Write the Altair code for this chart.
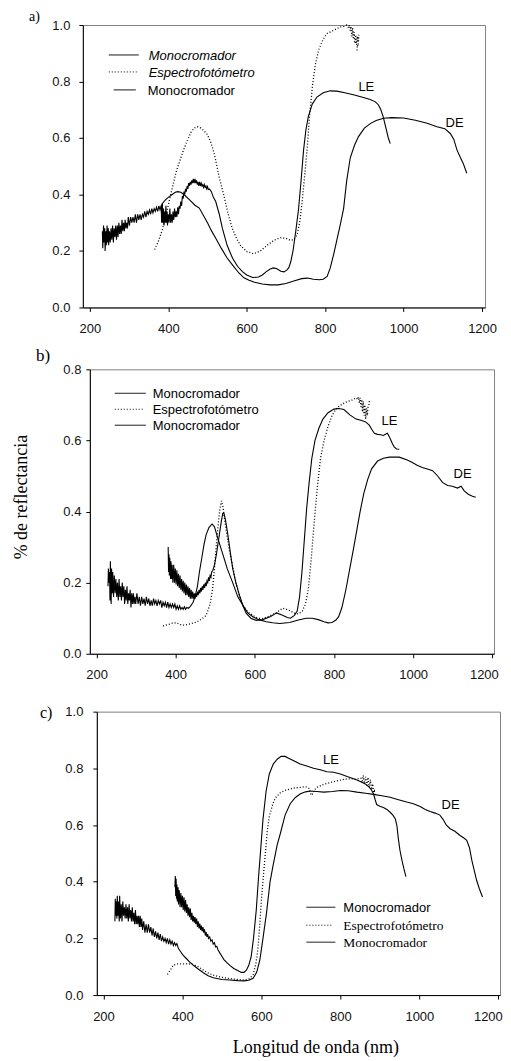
import altair as alt
import pandas as pd

# ---------------- data (wavelength nm, reflectance) ----------------
# Panel a
a_de = [(232,0.27),(233,0.21),(235,0.29),(236,0.23),(238,0.28),(239,0.20),(241,0.27),(242,0.22),(244,0.29),(245,0.23),
        (247,0.28),(248,0.22),(250,0.27),(252,0.23),(254,0.28),(256,0.24),(258,0.29),(260,0.23),(262,0.28),(264,0.25),
        (266,0.29),(268,0.24),(270,0.29),(272,0.25),(274,0.30),(276,0.26),(278,0.29),(280,0.26),(282,0.31),(284,0.27),
        (286,0.30),(288,0.27),(290,0.31),(292,0.28),(294,0.30),(296,0.28),(298,0.32),(301,0.29),(304,0.32),(307,0.30),
        (310,0.32),(313,0.30),(316,0.33),(319,0.30),(322,0.33),(325,0.31),(328,0.33),(331,0.31),(334,0.33),(337,0.32),
        (340,0.34),(343,0.32),(346,0.34),(349,0.33),(352,0.345),(355,0.33),(358,0.35),(361,0.335),(364,0.35),(367,0.34),
        (370,0.355),(373,0.34),(376,0.36),(379,0.345),(382,0.36),(386,0.37),(392,0.38),(400,0.39),(410,0.40),(418,0.408),
        (424,0.41),(432,0.408),(440,0.40),(455,0.38),(468,0.362),(479,0.352),(490,0.325),(500,0.30),(510,0.272),(521,0.245),
        (535,0.21),(550,0.175),(564,0.15),(580,0.122),(593,0.105),(606,0.096),(620,0.089),(640,0.083),(660,0.08),(680,0.08),
        (700,0.085),(720,0.094),(740,0.102),(755,0.104),(770,0.10),(785,0.098),(795,0.10),(805,0.11),(813,0.14),(822,0.19),
        (830,0.24),(838,0.29),(847,0.35),(855,0.45),(864,0.53),(875,0.575),(885,0.605),(900,0.635),(915,0.651),(930,0.662),
        (949,0.67),(970,0.672),(1000,0.671),(1030,0.663),(1060,0.652),(1085,0.64),(1105,0.633),(1119,0.616),(1128,0.595),
        (1136,0.558),(1145,0.53),(1152,0.51),(1161,0.475)]
a_le = [(382,0.36),(383,0.30),(385,0.37),(386,0.30),(388,0.35),(389,0.29),(391,0.34),(392,0.30),(394,0.36),(395,0.30),
        (397,0.34),(398,0.29),(400,0.33),(402,0.30),(404,0.35),(406,0.30),(408,0.33),(410,0.30),(412,0.34),(414,0.31),
        (416,0.35),(418,0.32),(420,0.34),(422,0.32),(424,0.355),(426,0.33),(428,0.36),(430,0.35),(432,0.375),(434,0.36),
        (436,0.395),(438,0.385),(440,0.41),(442,0.40),(444,0.42),(446,0.41),(448,0.43),(450,0.42),(452,0.44),(454,0.43),
        (456,0.445),(458,0.435),(460,0.45),(462,0.44),(464,0.455),(466,0.44),(468,0.455),(470,0.44),(472,0.45),(474,0.435),
        (476,0.445),(478,0.43),(480,0.445),(482,0.43),(484,0.44),(486,0.43),(488,0.435),(490,0.425),(492,0.435),(494,0.425),
        (496,0.43),(498,0.42),(500,0.428),(502,0.418),(505,0.42),(510,0.41),(515,0.39),(521,0.375),(530,0.33),(538,0.28),
        (550,0.22),(564,0.174),(577,0.145),(589,0.127),(600,0.115),(615,0.106),(630,0.108),(640,0.115),(650,0.127),(660,0.136),
        (668,0.14),(677,0.137),(687,0.128),(695,0.126),(702,0.132),(707,0.14),(712,0.16),(718,0.20),(725,0.27),(732,0.346),
        (738,0.44),(745,0.558),(751,0.63),(757,0.675),(767,0.72),(779,0.745),(795,0.76),(813,0.767),(830,0.766),(850,0.76),
        (872,0.753),(893,0.745),(915,0.736),(928,0.728),(936,0.717),(942,0.70),(948,0.675),(955,0.635),(961,0.60),(966,0.58)]
a_esp = [(365,0.205),(375,0.235),(386,0.28),(397,0.345),(408,0.41),(420,0.48),(437,0.55),(448,0.59),(458,0.62),(466,0.635),
         (474,0.64),(482,0.636),(490,0.627),(499,0.613),(507,0.59),(514,0.56),(520,0.527),(530,0.46),(542,0.395),(552,0.335),
         (563,0.28),(574,0.245),(584,0.22),(600,0.198),(618,0.19),(635,0.20),(652,0.22),(670,0.238),(686,0.247),(700,0.245),
         (711,0.238),(720,0.24),(728,0.256),(735,0.30),(741,0.37),(748,0.47),(754,0.56),(760,0.675),(768,0.79),(775,0.86),
         (783,0.91),(795,0.95),(805,0.97),(820,0.98),(838,0.993),(848,0.995),(855,1.0),(860,0.99),(862,1.0),(864,0.98),
         (866,0.995),(868,0.96),(870,0.99),(872,0.95),(874,0.975),(876,0.935),(878,0.965),(880,0.93),(882,0.96),(884,0.94),
         (886,0.965),(884,0.925),(882,0.93),(881,0.905)]

# Panel b
b_de = [(229,0.19),(230,0.24),(231,0.20),(233,0.23),(234,0.15),(235,0.26),(237,0.14),(238,0.24),(240,0.17),(241,0.23),
        (243,0.16),(245,0.22),(247,0.17),(249,0.21),(251,0.16),(253,0.20),(255,0.15),(257,0.21),(259,0.16),(261,0.19),
        (263,0.15),(265,0.20),(267,0.16),(269,0.19),(271,0.14),(273,0.18),(275,0.15),(277,0.19),(279,0.14),(281,0.17),
        (283,0.15),(285,0.18),(287,0.13),(289,0.17),(291,0.14),(293,0.17),(295,0.14),(297,0.16),(299,0.14),(302,0.17),
        (305,0.14),(308,0.16),(311,0.135),(314,0.16),(317,0.14),(320,0.155),(323,0.135),(326,0.16),(329,0.14),(332,0.155),
        (335,0.135),(338,0.15),(341,0.135),(344,0.155),(347,0.14),(350,0.15),(353,0.135),(356,0.15),(359,0.14),(362,0.15),
        (365,0.13),(368,0.145),(371,0.135),(374,0.145),(377,0.13),(380,0.145),(383,0.13),(386,0.14),(389,0.13),(392,0.14),
        (395,0.13),(398,0.14),(401,0.125),(404,0.135),(407,0.125),(410,0.135),(413,0.125),(416,0.13),(419,0.125),(422,0.132),
        (425,0.125),(428,0.13),(432,0.128),(436,0.132),(440,0.138),(444,0.145),(450,0.165),(455,0.19),(460,0.23),(466,0.27),
        (472,0.31),(477,0.335),(484,0.355),(492,0.365),(498,0.357),(505,0.33),(512,0.305),(519,0.28),(530,0.24),(544,0.20),
        (557,0.16),(570,0.136),(582,0.115),(595,0.104),(610,0.096),(629,0.09),(645,0.087),(663,0.085),(688,0.088),(710,0.095),
        (730,0.10),(745,0.10),(760,0.096),(775,0.09),(785,0.087),(795,0.088),(805,0.095),(812,0.105),(820,0.13),(830,0.18),
        (840,0.24),(850,0.30),(858,0.35),(866,0.40),(875,0.45),(885,0.49),(895,0.52),(910,0.542),(925,0.55),(940,0.553),
        (965,0.553),(985,0.545),(998,0.538),(1010,0.53),(1023,0.524),(1040,0.518),(1049,0.515),(1062,0.50),(1074,0.482),
        (1087,0.473),(1099,0.471),(1112,0.466),(1121,0.471),(1129,0.458),(1140,0.448),(1150,0.443),(1158,0.44)]
b_le = [(381,0.30),(382,0.23),(383,0.28),(384,0.22),(385,0.27),(387,0.21),(388,0.26),(390,0.21),(391,0.25),(393,0.20),
        (395,0.25),(397,0.20),(399,0.24),(401,0.195),(403,0.235),(405,0.19),(407,0.225),(409,0.185),(411,0.22),(413,0.18),
        (415,0.21),(417,0.175),(419,0.205),(421,0.17),(423,0.20),(425,0.165),(427,0.195),(429,0.165),(431,0.19),(433,0.16),
        (435,0.185),(437,0.155),(439,0.18),(441,0.155),(443,0.175),(445,0.155),(447,0.17),(449,0.155),(451,0.17),(453,0.16),
        (455,0.175),(457,0.165),(459,0.18),(461,0.17),(463,0.185),(465,0.175),(467,0.19),(469,0.18),(471,0.195),(473,0.185),
        (475,0.20),(477,0.19),(479,0.205),(481,0.20),(483,0.215),(485,0.205),(487,0.22),(489,0.215),(491,0.23),(494,0.235),
        (498,0.25),(503,0.28),(507,0.31),(511,0.34),(515,0.37),(519,0.395),(522,0.395),(526,0.375),(532,0.334),(538,0.285),
        (544,0.24),(552,0.20),(561,0.165),(570,0.135),(578,0.114),(590,0.10),(603,0.094),(620,0.096),(640,0.105),(655,0.115),
        (670,0.108),(682,0.102),(690,0.10),(700,0.108),(707,0.12),(713,0.16),(719,0.23),(725,0.32),(731,0.41),(737,0.48),
        (744,0.55),(752,0.60),(762,0.635),(772,0.66),(785,0.678),(800,0.688),(812,0.69),(825,0.687),(840,0.672),(856,0.66),
        (870,0.656),(880,0.652),(889,0.643),(896,0.63),(902,0.62),(910,0.617),(918,0.616),(925,0.614),(931,0.618),(935,0.62),
        (940,0.61),(944,0.60),(948,0.59),(952,0.582),(958,0.576),(965,0.575)]
b_esp = [(368,0.078),(380,0.082),(392,0.086),(402,0.087),(412,0.082),(423,0.08),(437,0.084),(452,0.089),(465,0.097),(477,0.108),
         (487,0.14),(493,0.18),(498,0.24),(503,0.31),(508,0.37),(512,0.41),(516,0.43),(520,0.41),(524,0.374),(530,0.33),
         (536,0.29),(545,0.24),(553,0.197),(562,0.16),(570,0.136),(582,0.118),(595,0.108),(608,0.10),(620,0.099),(635,0.105),
         (654,0.115),(670,0.128),(680,0.125),(690,0.12),(700,0.114),(710,0.112),(720,0.12),(728,0.14),(735,0.18),(742,0.26),
         (750,0.37),(758,0.47),(766,0.55),(775,0.60),(785,0.64),(795,0.67),(805,0.688),(815,0.698),(830,0.708),(842,0.712),
         (850,0.716),(856,0.72),(860,0.715),(862,0.722),(864,0.705),(866,0.72),(868,0.695),(870,0.715),(872,0.68),(874,0.71),
         (876,0.67),(878,0.70),(880,0.66),(882,0.69),(884,0.67),(886,0.695),(888,0.70),(890,0.716)]

# Panel c
c_de = [(229,0.26),(230,0.34),(231,0.28),(232,0.33),(234,0.27),(235,0.35),(237,0.28),(238,0.33),(240,0.26),(241,0.35),
        (243,0.27),(245,0.32),(247,0.26),(249,0.33),(251,0.28),(253,0.31),(255,0.27),(257,0.32),(259,0.27),(261,0.31),
        (263,0.26),(265,0.32),(267,0.27),(269,0.30),(271,0.26),(273,0.31),(275,0.26),(277,0.29),(279,0.25),(281,0.30),
        (283,0.25),(285,0.28),(287,0.25),(289,0.28),(291,0.24),(293,0.28),(295,0.24),(297,0.27),(299,0.23),(302,0.26),
        (305,0.22),(308,0.25),(311,0.22),(314,0.25),(317,0.22),(320,0.24),(323,0.21),(326,0.235),(329,0.205),(332,0.225),
        (335,0.20),(338,0.22),(341,0.195),(344,0.215),(347,0.19),(350,0.205),(353,0.19),(356,0.20),(359,0.185),(362,0.20),
        (365,0.18),(368,0.195),(371,0.18),(374,0.19),(377,0.175),(380,0.185),(383,0.175),(386,0.182),(389,0.168),(392,0.16),
        (396,0.152),(402,0.14),(410,0.129),(418,0.117),(427,0.106),(440,0.092),(453,0.079),(465,0.068),(478,0.061),(500,0.055),
        (520,0.053),(540,0.051),(556,0.05),(568,0.052),(579,0.059),(588,0.08),(596,0.123),(604,0.20),(613,0.29),(622,0.40),
        (630,0.46),(640,0.53),(648,0.57),(660,0.635),(673,0.675),(686,0.697),(699,0.71),(712,0.717),(724,0.72),(740,0.718),
        (758,0.716),(780,0.718),(800,0.722),(820,0.721),(842,0.716),(864,0.712),(884,0.708),(905,0.703),(926,0.698),(945,0.69),
        (968,0.681),(985,0.675),(1002,0.665),(1015,0.655),(1027,0.648),(1040,0.642),(1052,0.635),(1060,0.62),(1068,0.60),
        (1078,0.587),(1090,0.578),(1103,0.563),(1112,0.555),(1120,0.546),(1127,0.52),(1133,0.475),(1139,0.44),(1145,0.405),
        (1152,0.375),(1160,0.346)]
c_le = [(381,0.38),(382,0.42),(383,0.35),(384,0.41),(385,0.34),(386,0.39),(387,0.33),(389,0.38),(390,0.32),(392,0.37),
        (394,0.31),(396,0.36),(398,0.31),(400,0.35),(402,0.30),(404,0.345),(406,0.295),(408,0.335),(410,0.29),(412,0.32),
        (414,0.28),(416,0.31),(418,0.275),(420,0.305),(422,0.265),(424,0.29),(426,0.26),(428,0.28),(430,0.255),(432,0.275),
        (434,0.25),(436,0.27),(438,0.24),(440,0.26),(442,0.235),(444,0.252),(446,0.23),(448,0.245),(450,0.225),(452,0.24),
        (454,0.22),(456,0.232),(458,0.21),(460,0.222),(462,0.205),(464,0.215),(466,0.20),(469,0.205),(472,0.19),(475,0.195),
        (478,0.18),(481,0.185),(484,0.17),(487,0.172),(490,0.16),(495,0.148),(500,0.137),(505,0.125),(512,0.115),(520,0.105),
        (530,0.094),(540,0.087),(549,0.08),(556,0.08),(562,0.088),(568,0.105),(574,0.135),(580,0.20),(587,0.30),(593,0.42),
        (598,0.51),(604,0.62),(612,0.72),(620,0.78),(630,0.815),(640,0.832),(650,0.842),(660,0.842),(670,0.835),(682,0.827),
        (698,0.815),(715,0.808),(732,0.80),(749,0.795),(766,0.788),(783,0.786),(800,0.78),(817,0.771),(830,0.765),(842,0.759),
        (853,0.752),(863,0.745),(872,0.735),(878,0.725),(884,0.71),(888,0.69),(892,0.672),(900,0.666),(909,0.662),(918,0.655),
        (926,0.645),(933,0.635),(939,0.622),(943,0.60),(947,0.55),(951,0.51),(956,0.475),(961,0.445),(966,0.418)]
c_esp = [(362,0.073),(370,0.09),(377,0.106),(388,0.11),(402,0.11),(415,0.11),(427,0.108),(440,0.10),(453,0.088),(465,0.078),
         (478,0.07),(498,0.063),(520,0.058),(540,0.055),(556,0.053),(570,0.058),(579,0.072),(586,0.11),(591,0.16),(596,0.25),
         (600,0.335),(605,0.42),(610,0.50),(615,0.58),(620,0.63),(628,0.67),(635,0.695),(648,0.714),(660,0.722),(680,0.73),
         (699,0.733),(712,0.735),(720,0.73),(726,0.705),(730,0.71),(735,0.725),(741,0.733),(755,0.742),(775,0.75),(795,0.757),
         (817,0.763),(842,0.762),(852,0.765),(855,0.75),(858,0.775),(861,0.745),(864,0.77),(867,0.74),(870,0.768),(873,0.735),
         (876,0.76),(879,0.725),(882,0.745),(884,0.715),(886,0.72),(888,0.70)]

# curve labels (text, nm, reflectance)
a_labels = [("LE", 905, 0.767), ("DE", 1130, 0.64)]
b_labels = [("LE", 940, 0.643), ("DE", 1125, 0.494)]
c_labels = [("LE", 776, 0.817), ("DE", 1079, 0.655)]

x_ticks = [200, 400, 600, 800, 1000, 1200]
y_ticks_1 = [0.0, 0.2, 0.4, 0.6, 0.8, 1.0]
y_ticks_b = [0.0, 0.1, 0.2, 0.3, 0.4, 0.5, 0.6, 0.7, 0.8]

SANS = "Liberation Sans"
SERIF = "Liberation Serif"


def build_df(de, le, esp):
    rows = []
    for name, pts in (("DE", de), ("LE", le), ("ESP", esp)):
        for i, (x, y) in enumerate(pts):
            rows.append({"nm": x, "val": y, "serie": name, "idx": i})
    return pd.DataFrame(rows)


def one_row():
    return pd.DataFrame({"k": [0]})


def make_panel(de, le, esp, labels, xdom, ydom, yticks, w, h, ylabpad,
               letter, letter_font, letter_x, letter_y, legend, last_off=None,
               ytitle=None, xtitle=None):
    df = build_df(de, le, esp)
    ldf = pd.DataFrame(labels, columns=["t", "nm", "val"])

    xaxis_kw = dict(values=x_ticks, format="d", grid=False, domainColor="black", tickColor="black",
                    tickSize=4, labelFont=SANS, labelFontSize=13, labelColor="#111",
                    labelPadding=11, domainWidth=1)
    if last_off is not None:
        xaxis_kw["labelAlign"] = {"condition": {"test": "datum.value == 1200", "value": "right"},
                                  "value": "center"}
        xaxis_kw["labelOffset"] = {"condition": {"test": "datum.value == 1200", "value": last_off},
                                   "value": 0}
    if xtitle:
        xaxis_kw.update(titleFont=SERIF, titleFontSize=18, titleFontWeight="normal",
                        titleColor="black", titleX=xtitle[1], titleY=xtitle[2],
                        titleBaseline="alphabetic", titleAlign="center")
    yaxis_kw = dict(values=yticks, format=".1f", grid=False, domainColor="black",
                    tickColor="black", tickSize=4, labelFont=SANS, labelFontSize=13,
                    labelColor="#111", labelPadding=ylabpad, domainWidth=1)

    x = alt.X("nm:Q", scale=alt.Scale(domain=xdom, nice=False, zero=False),
              axis=alt.Axis(**xaxis_kw), title=(xtitle[0] if xtitle else None))
    y = alt.Y("val:Q", scale=alt.Scale(domain=ydom, nice=False, zero=False),
              axis=alt.Axis(**yaxis_kw), title=None)

    base = alt.Chart(df)
    solid = base.transform_filter(alt.datum.serie != "ESP").mark_line(
        color="black", strokeWidth=1.1, interpolate="linear"
    ).encode(x=x, y=y, detail="serie:N", order="idx:Q")
    dotted = base.transform_filter(alt.datum.serie == "ESP").mark_line(
        color="black", strokeWidth=1.3, strokeDash=[1, 2]
    ).encode(x=x, y=y, order="idx:Q")
    texts = alt.Chart(ldf).mark_text(font=SANS, fontSize=13, color="black",
                                     align="center", baseline="alphabetic").encode(
        x="nm:Q", y="val:Q", text="t:N")
    letter_mark = alt.Chart(one_row()).mark_text(
        font=SERIF, fontSize=letter_font, color="black", align="left", baseline="top"
    ).encode(x=alt.value(letter_x), y=alt.value(letter_y), text=alt.value(letter))

    layers = [solid, dotted, texts, letter_mark]
    if ytitle:
        layers.append(alt.Chart(one_row()).mark_text(
            font=SERIF, fontSize=18, color="black", angle=270,
            align="center", baseline="alphabetic"
        ).encode(x=alt.value(ytitle[1]), y=alt.value(ytitle[2]), text=alt.value(ytitle[0])))
    for (dash, x1, x2, ly, tx, label, font, fsize, style) in legend:
        rule = alt.Chart(one_row()).mark_rule(
            color="black", strokeWidth=1, strokeDash=dash
        ).encode(x=alt.value(x1), x2=alt.value(x2), y=alt.value(ly))
        txt = alt.Chart(one_row()).mark_text(
            font=font, fontSize=fsize, fontStyle=style, color="black",
            align="left", baseline="middle"
        ).encode(x=alt.value(tx), y=alt.value(ly + 1), text=alt.value(label))
        layers += [rule, txt]

    return alt.layer(*layers).properties(width=w, height=h)


def spacer(w):
    return alt.Chart(one_row()).mark_rule(opacity=0, strokeWidth=0).encode(
        x=alt.value(1), y=alt.value(0), y2=alt.value(1)
    ).properties(width=w, height=1, view=alt.ViewBackground(strokeOpacity=0))


SOLID = [1, 0]
DOT = [1, 2]

legend_a = [
    (SOLID, 26, 56, 30, 66, "Monocromador", SANS, 13, "italic"),
    (DOT, 26, 55, 47, 66, "Espectrofotómetro", SANS, 13, "italic"),
    (SOLID, 31, 53, 65, 65, "Monocromador", SANS, 13, "normal"),
]
legend_b = [
    (SOLID, 25, 56, 24, 63, "Monocromador", SANS, 13, "normal"),
    (DOT, 25, 53, 40, 63, "Espectrofotómetro", SANS, 13, "normal"),
    (SOLID, 25, 56, 56, 63, "Monocromador", SANS, 13, "normal"),
]
legend_c = [
    (SOLID, 210, 239, 196, 247, "Monocromador", SANS, 13, "normal"),
    (DOT, 210, 237, 214, 247, "Espectrofotómetro", SERIF, 13.5, "normal"),
    (SOLID, 210, 239, 231, 247, "Monocromador", SERIF, 13.5, "normal"),
]

panel_a = make_panel(a_de, a_le, a_esp, a_labels, [182.2, 1207.6], [0, 1], y_ticks_1,
                     403, 283, 9, "a)", 14, -54, -15, legend_a)
panel_b = make_panel(b_de, b_le, b_esp, b_labels, [183.1, 1204.3], [0, 0.8], y_ticks_b,
                     405, 285, 5, "b)", 17, -54, -21, legend_b, last_off=6,
                     ytitle=("% de reflectancia", -63, 128))
panel_c = make_panel(c_de, c_le, c_esp, c_labels, [183.2, 1204.3], [0, 1], y_ticks_1,
                     404, 284, 10, "c)", 16, -57, -7, legend_c, last_off=4,
                     xtitle=("Longitud de onda (nm)", 219, 58))

row_a = alt.hconcat(spacer(20), panel_a, spacing=0)
row_b = alt.hconcat(spacer(4), panel_b, spacing=0)
row_c = alt.hconcat(spacer(31), panel_c, spacing=0)

chart = alt.vconcat(row_a, alt.vconcat(row_b, row_c, spacing=21), spacing=10).properties(
    padding=0
).configure(font=SANS).configure_view(stroke="#808080", strokeWidth=1)

chart.save("out.html", embed_options={"renderer": "svg", "actions": False})
